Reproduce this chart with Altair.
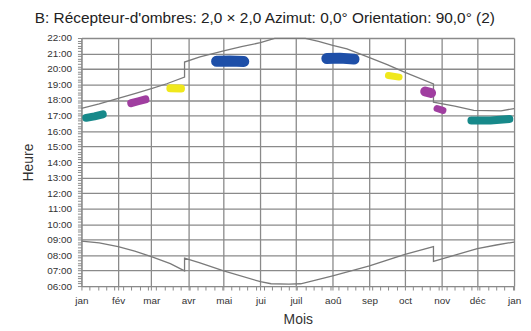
import altair as alt
import pandas as pd

# Month axis (day of year) and labels
month_days = [0, 31, 59, 90, 120, 151, 181, 212, 243, 273, 304, 334, 365]
month_names = ["jan", "fév", "mar", "avr", "mai", "jui", "juil", "aoû", "sep", "oct", "nov", "déc", "jan"]
week_days = list(range(0, 366, 7))

# Upper limit curve (hours)
up_days = [0, 15, 31, 45, 59, 72, 87, 87, 100, 120, 135, 151, 163, 189, 200, 212, 224, 243, 258, 273, 297, 297, 315, 331, 354, 365]
up_hours = [17.46, 17.75, 18.1, 18.42, 18.74, 19.05, 19.48, 20.45, 20.78, 21.17, 21.45, 21.7, 21.98, 21.98, 21.78, 21.52, 21.3, 20.74, 20.28, 19.78, 19.04, 17.86, 17.6, 17.33, 17.3, 17.45]

# Lower limit curve (hours)
lo_days = [0, 15, 31, 45, 59, 75, 87, 87, 100, 120, 151, 160, 175, 185, 212, 243, 273, 297, 297, 334, 350, 365]
lo_hours = [8.9, 8.78, 8.54, 8.25, 7.9, 7.45, 6.98, 7.8, 7.5, 6.98, 6.28, 6.15, 6.12, 6.15, 6.66, 7.3, 8.05, 8.54, 7.6, 8.41, 8.65, 8.84]

# Shadow periods (blobs)
blob_names = ["t1", "p1", "y1", "b1", "b2", "y2", "p2", "p3", "t2"]
blob_colors = ["#17898a", "#a03ea0", "#f0e81c", "#1e4fa8", "#1e4fa8", "#f0e81c", "#a03ea0", "#a03ea0", "#17898a"]
blob_widths = [8, 8, 8, 11, 11, 7, 10, 7, 8]
blob_days = [[4, 11, 18], [42, 48, 54], [75, 84], [114, 125, 137], [207, 218, 230], [259, 268], [290, 295], [300, 305], [329, 345, 361]]
blob_hours = [[16.85, 16.95, 17.08], [17.8, 17.92, 18.04], [18.76, 18.74], [20.5, 20.52, 20.48], [20.68, 20.7, 20.64], [19.58, 19.48], [18.55, 18.45], [17.45, 17.33], [16.68, 16.68, 16.78]]

curves = pd.DataFrame(
    [{"curve": "up", "i": i, "day": d, "min": h * 60} for i, (d, h) in enumerate(zip(up_days, up_hours))]
    + [{"curve": "lo", "i": i, "day": d, "min": h * 60} for i, (d, h) in enumerate(zip(lo_days, lo_hours))]
)

rows = []
for name, col, w, ds, hs in zip(blob_names, blob_colors, blob_widths, blob_days, blob_hours):
    for i, (d, h) in enumerate(zip(ds, hs)):
        rows.append({"blob": name, "color": col, "w": w, "i": i, "day": d, "min": h * 60})
blobs = pd.DataFrame(rows)

x_vals = sorted(set(month_days) | set(week_days))
md = "[" + ",".join(str(v) for v in month_days) + "]"
mn = "[" + ",".join("'" + v + "'" for v in month_names) + "]"
x_label_expr = f"indexof({md}, datum.value) >= 0 ? {mn}[indexof({md}, datum.value)] : ''"

y_vals = list(range(360, 1321, 10))
y_label_expr = "datum.value % 60 == 0 ? (datum.value < 600 ? '0' : '') + (datum.value / 60) + ':00' : ''"

grid_col = "#8a8a8a"
xscale = alt.Scale(domain=[0, 365], nice=False, zero=False)
yscale = alt.Scale(domain=[360, 1320], nice=False, zero=False)

x_axis = alt.Axis(
    title="Mois", values=x_vals, labelExpr=x_label_expr, tickCount=500,
    gridOpacity={"condition": {"test": f"indexof({md}, datum.value) >= 0", "value": 1}, "value": 0},
    gridColor=grid_col, gridWidth=1.3, tickSize=4, tickColor=grid_col, domainColor=grid_col,
    labelFontSize=10, labelColor="#333", labelPadding=6, labelOverlap=False, labelFlush=False,
    titleFontSize=14, titleFontWeight="normal", titleColor="#333", titlePadding=7,
)
y_axis = alt.Axis(
    title="Heure", values=y_vals, labelExpr=y_label_expr, tickCount=500,
    gridOpacity={"condition": {"test": "datum.value % 60 == 0", "value": 1}, "value": 0},
    gridColor=grid_col, gridWidth=1.3, tickSize=4, tickColor=grid_col, domainColor=grid_col,
    labelFontSize=10, labelColor="#333", labelPadding=6, labelOverlap=False, labelFlush=False,
    titleFontSize=14, titleFontWeight="normal", titleColor="#333", titlePadding=11,
)

base_lines = alt.Chart(curves).mark_line(color="#7a7a7a", strokeWidth=1.3).encode(
    x=alt.X("day:Q", scale=xscale, axis=x_axis),
    y=alt.Y("min:Q", scale=yscale, axis=y_axis),
    detail="curve:N",
    order="i:Q",
)

blob_layer = alt.Chart(blobs).mark_line(strokeCap="round", strokeJoin="round").encode(
    x=alt.X("day:Q", scale=xscale),
    y=alt.Y("min:Q", scale=yscale),
    detail="blob:N",
    order="i:Q",
    color=alt.Color("color:N", scale=None),
    size=alt.Size("w:Q", scale=None),
)

chart = alt.layer(base_lines, blob_layer).properties(
    width=436, height=250,
    title=alt.TitleParams(
        "B: Récepteur-d'ombres: 2,0 × 2,0  Azimut: 0,0°  Orientation: 90,0° (2)",
        fontSize=15.5, fontWeight="normal", color="#222", anchor="start", frame="group",
        dx=-47, offset=7,
    ),
    autosize=alt.AutoSizeParams(type="none"),
    padding={"left": 74, "top": 29, "right": 9, "bottom": 40},
).configure(font="Liberation Sans").configure_view(strokeWidth=0)

chart.save("out.html", embed_options={"renderer": "svg", "actions": False})
